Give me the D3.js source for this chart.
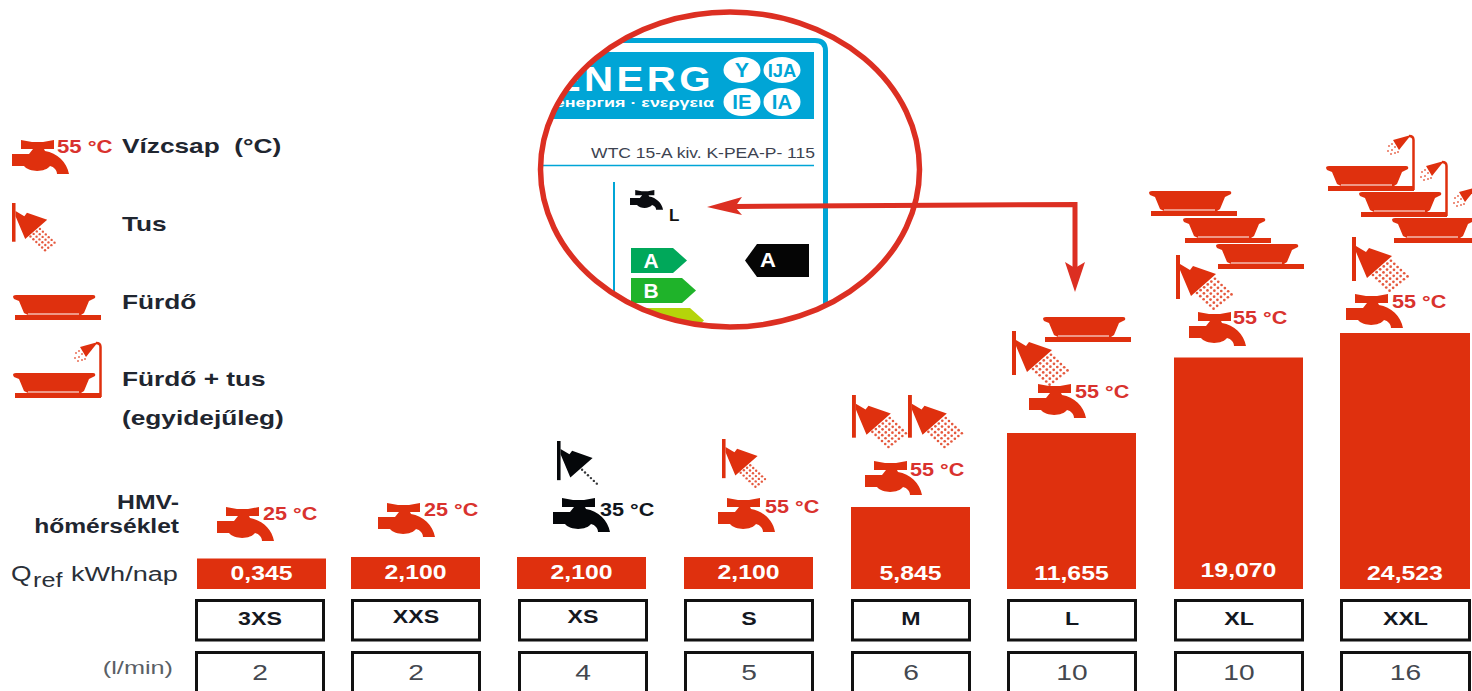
<!DOCTYPE html>
<!-- Hot water load profiles: Qref per profile with tap, shower and bath icons. -->
<meta charset="utf-8">
<style>
 html, body { margin: 0; background: #fff; }
 svg { display: block; }
 text { font-family: "Liberation Sans", Arial, sans-serif; white-space: pre; }
</style>

<svg class="chart"></svg>

<script src="https://cdnjs.cloudflare.com/ajax/libs/d3/7.8.5/d3.min.js"></script>

<script>

 // chart values
 var profiles = ["3XS", "XXS", "XS", "S", "M", "L", "XL", "XXL"];
 var qref = [0.345, 2.1, 2.1, 2.1, 5.845, 11.655, 19.07, 24.523];
 var flow = [2, 2, 4, 5, 6, 10, 10, 16];
 var temps = [25, 25, 35, 55, 55, 55, 55, 55];
 var legendLabels = ["Vízcsap  (°C)", "Tus", "Fürdő", "Fürdő + tus", "(egyidejűleg)"];

 var RED = "#df300e", LINE = "#dc2f22", BLUE = "#00a5d6", INK = "#1f2630";
 var W = 1472, H = 691;

 var svg = d3.select(".chart").attr("width", W).attr("height", H);

 // the columns of the original are not evenly spaced
 var colX = d3.scaleOrdinal().domain(profiles).range([197, 351, 517, 684, 851, 1007, 1174, 1340]);
 var colW = d3.scaleOrdinal().domain(profiles).range([129, 129, 129, 129, 119, 129, 129, 130]);
 var boxX = d3.scaleOrdinal().domain(profiles).range([196.5, 352.5, 519.5, 685.5, 852.5, 1008.5, 1175.5, 1341.5]);
 var boxW = d3.scaleOrdinal().domain(profiles).range([127, 127, 127, 127, 117, 127, 127, 128]);

 // the bars are not to scale in the original, so the height scale has several pieces
 var y = d3.scaleLinear()
     .domain([0, 0.345, 2.1, 5.845, 11.655, 19.07, 24.523])
     .range([589, 558.5, 557, 507, 433, 357.5, 333]);

 var fmt = d3.formatLocale({decimal: ",", thousands: ".", grouping: [3], currency: ["", ""]}).format(".3f");

 // the picture is stretched sideways, text gets the same stretch
 function label(g, str, x, yy, o) {
     o = o || {};
     return g.append("text")
         .attr("transform", "translate(" + x + "," + yy + ") scale(" + (o.sx || 1.2) + ",1)")
         .attr("text-anchor", o.anchor || "start")
         .attr("font-size", o.size || 20)
         .attr("font-weight", o.weight || "bold")
         .attr("letter-spacing", o.ls || null)
         .attr("fill", o.fill || INK)
         .text(str);
 }

 function tap(g, x, yy, color, scale) {
     g.append("path")
         .attr("transform", "translate(" + x + "," + yy + ") scale(" + (scale || 1) + ")")
         .attr("fill", color)
         .attr("d", "M9,0 L20,2 L31,2 L42,0 L42,9 L32,9 L33,11 C45,13 55,22 57,34 L45,34 "
                  + "C45,30 42,27 38,26 C34,32 18,33 12,26 L0,26 L0,14 L17,14 L21,9 L9,9 Z");
 }

 function shower(g, x, yy, color, scale, iFrom, iTo, jTo) {
     var s = g.append("g")
         .attr("transform", "translate(" + x + "," + yy + ") scale(" + (scale || 1) + ")")
         .attr("fill", color);
     s.append("rect").attr("width", 4).attr("height", 44);
     s.append("path").attr("d", "M4,9 L14,15 L17,11 L40,19 L15,41 L4,15 Z");
     var pts = [];
     d3.range(iFrom, iTo + 1).forEach(function(i) {
         d3.range(0, jTo + 1).forEach(function(j) {
             pts.push([21 + i * 4.6 * 0.78 + j * 4.6 * 0.72, 38 - i * 4.6 * 0.62 + j * 4.6 * 0.68]);
         });
     });
     s.selectAll("circle").data(pts).enter().append("circle")
         .attr("cx", function(d) { return d[0]; })
         .attr("cy", function(d) { return d[1]; })
         .attr("r", 1.35)
         .attr("opacity", 0.8);
 }

 function bath(g, x, yy, withShower) {
     var b = g.append("g").attr("transform", "translate(" + x + "," + yy + ")").attr("fill", RED);
     b.append("path").attr("d", "M0,2 Q0,0 3,0 L80,0 Q83,0 82,3 L76,6 L71,18 L68,20 L88,20 L88,25 "
                              + "L2,25 L2,20 L15,20 L11,18 L6,6 L1,4 Z");
     b.append("line").attr("x1", 15).attr("x2", 66).attr("y1", 19).attr("y2", 19)
         .attr("stroke", "#fff").attr("stroke-width", 1);
     if (withShower) {
         b.append("path").attr("fill", "none").attr("stroke", RED).attr("stroke-width", 2.5)
             .attr("d", "M87.5,24 L87.5,-26 Q87.5,-30 83,-30");
         b.append("path").attr("d", "M85,-31 L67,-26 L73,-16 Z");
         var pts = [[66, -22], [69, -19], [72, -14], [63, -20], [66, -16], [69, -13], [62, -15], [65, -12]];
         b.selectAll("circle").data(pts).enter().append("circle")
             .attr("cx", function(d) { return d[0]; })
             .attr("cy", function(d) { return d[1]; })
             .attr("r", 1).attr("opacity", 0.7);
     }
 }

 // ---- legend ----
 var legend = svg.append("g");
 tap(legend, 12, 140, RED);
 label(legend, "55 °C", 57, 153, {size: 18, fill: "#d9322e", sx: 1.23});
 shower(legend, 12, 203, RED, 0.88, 0, 3, 5);
 bath(legend, 13, 295, false);
 bath(legend, 13, 373, true);
 [153, 231, 309, 386, 425].forEach(function(yy, i) {
     label(legend, legendLabels[i], 122, yy, {size: 21, sx: 1.25});
 });

 // ---- row headings ----
 var heads = svg.append("g");
 label(heads, "HMV-", 179, 509, {size: 20, anchor: "end", sx: 1.24});
 label(heads, "hőmérséklet", 179, 533, {size: 20, anchor: "end", sx: 1.23});
 label(heads, "Q", 11, 581, {size: 22, weight: "normal", sx: 1.2, fill: "#2a3038"});
 label(heads, "ref", 33, 587, {size: 21, weight: "normal", sx: 1.2, fill: "#2a3038"});
 label(heads, "kWh/nap", 71, 581, {size: 21, weight: "normal", sx: 1.29, fill: "#2a3038"});
 label(heads, "(l/min)", 173, 674, {size: 19, weight: "normal", anchor: "end", sx: 1.33, fill: "#5a5f66"});

 // ---- bars and value labels ----
 var rows = profiles.map(function(p, i) {
     return {name: p, q: qref[i], flow: flow[i], temp: temps[i]};
 });

 svg.append("g").selectAll("rect").data(rows).enter().append("rect")
     .attr("x", function(d) { return colX(d.name); })
     .attr("y", function(d) { return y(d.q); })
     .attr("width", function(d) { return colW(d.name); })
     .attr("height", function(d) { return y(0) - y(d.q); })
     .attr("fill", RED);

 var valueG = svg.append("g");
 rows.forEach(function(d) {
     var c = colX(d.name) + colW(d.name) / 2;
     var base = d.name == "XL" ? 577 : (d.name == "XXS" || d.name == "XS" || d.name == "S" ? 579 : 580);
     label(valueG, fmt(d.q), c, base, {size: 20, anchor: "middle", fill: "#fff", sx: 1.24});
 });

 // ---- boxes under the bars ----
 var boxes = svg.append("g");
 rows.forEach(function(d) {
     var bx = boxX(d.name), bw = boxW(d.name);
     boxes.append("rect").attr("x", bx).attr("y", 600.5).attr("width", bw).attr("height", 39.5)
         .attr("fill", "#fff").attr("stroke", "#111").attr("stroke-width", 3);
     boxes.append("rect").attr("x", bx).attr("y", 652.5).attr("width", bw).attr("height", 60)
         .attr("fill", "#fff").attr("stroke", "#111").attr("stroke-width", 3);
     var c = bx + bw / 2;
     label(boxes, d.name, c, d.name == "XXS" || d.name == "XS" ? 623 : 625, {size: 19, anchor: "middle", sx: 1.22, fill: "#14181f"});
     label(boxes, d.flow, c, 680, {size: 22, weight: "normal", anchor: "middle", sx: 1.28, fill: "#44484f"});
 });

 // ---- icons over the bars, tap position per profile ----
 var tapSpots = {"3XS": [217, 507, 263, 520], "XXS": [378, 503, 424, 516], "XS": [553, 498, 600, 516],
                 "S": [718, 498, 765, 513], "M": [865, 461, 910, 476], "L": [1029, 384, 1075, 398],
                 "XL": [1189, 312, 1233, 324], "XXL": [1346, 294, 1392, 308]};
 var icons = svg.append("g");
 rows.forEach(function(d) {
     var s = tapSpots[d.name];
     var col = d.temp == 35 ? "#05070a" : RED;
     tap(icons, s[0], s[1], col);
     label(icons, d.temp + " °C", s[2], s[3], {size: 18, fill: d.temp == 35 ? "#11161d" : "#d9322e", sx: 1.2});
 });

 shower(icons, 557, 441, "#05070a", 0.89, 2, 2, 5);
 shower(icons, 722, 439, RED, 0.89, 0, 3, 5);
 shower(icons, 852, 395, RED, 0.97, 0, 5, 5);
 shower(icons, 908, 395, RED, 0.97, 0, 5, 5);
 shower(icons, 1012, 331, RED, 1, 0, 5, 5);
 shower(icons, 1176, 255, RED, 1, 0, 5, 5);
 shower(icons, 1352, 237, RED, 1, 0, 5, 5);

 bath(icons, 1043, 317, false);
 bath(icons, 1149, 191, false);
 bath(icons, 1183, 218, false);
 bath(icons, 1216, 244, false);
 bath(icons, 1326, 166, true);
 bath(icons, 1359, 192, true);
 bath(icons, 1392, 218, true);

 // ---- energy label inset ----
 var defs = svg.append("defs");
 defs.append("clipPath").attr("id", "lens").append("ellipse")
     .attr("cx", 730).attr("cy", 169.5).attr("rx", 189.5).attr("ry", 157.5);

 var inset = svg.append("g").attr("clip-path", "url(#lens)");
 inset.append("path").attr("fill", "none").attr("stroke", BLUE).attr("stroke-width", 5)
     .attr("d", "M530,40.5 H815 Q825.5,40.5 825.5,51 V340");
 inset.append("rect").attr("x", 530).attr("y", 52).attr("width", 284).attr("height", 67).attr("fill", BLUE);
 label(inset, "ENERG", 714, 91, {size: 36, anchor: "end", fill: "#fff", sx: 1.12, ls: 3});
 label(inset, "енергия · ενεργεια", 714, 107, {size: 13.5, anchor: "end", fill: "#fff", sx: 1.33});
 [["Y", 742, 70, 21], ["IJA", 782, 70, 18], ["IE", 742, 102, 20], ["IA", 782, 102, 20]].forEach(function(c) {
     inset.append("ellipse").attr("cx", c[1]).attr("cy", c[2]).attr("rx", 18.5).attr("ry", c[2] == 70 ? 13 : 14).attr("fill", "#fff");
     label(inset, c[0], c[1], c[2] + 7, {size: c[3], anchor: "middle", fill: BLUE, sx: 1.02});
 });
 label(inset, "WTC 15-A kiv. K-PEA-P- 115", 815, 158, {size: 15.5, weight: "normal", anchor: "end", fill: "#3c4250", sx: 1.13});
 inset.append("line").attr("x1", 530).attr("x2", 814).attr("y1", 165.5).attr("y2", 165.5).attr("stroke", BLUE).attr("stroke-width", 1.5);
 inset.append("line").attr("x1", 614).attr("x2", 614).attr("y1", 182).attr("y2", 340).attr("stroke", BLUE).attr("stroke-width", 2);
 tap(inset, 630, 190, "#0a0c10", 0.58);
 label(inset, "L", 669, 221, {size: 17, fill: "#111", sx: 1});

 [["A", 248, 56, "#00a85a"], ["B", 278, 65, "#1fb32a"], ["", 308, 73, "#b5d40a"]].forEach(function(c) {
     var x0 = 631, y0 = c[1], w = c[2], h = 25;
     inset.append("path").attr("fill", c[3])
         .attr("d", "M" + x0 + "," + y0 + " H" + (x0 + w - 14) + " L" + (x0 + w) + "," + (y0 + h / 2)
                  + " L" + (x0 + w - 14) + "," + (y0 + h) + " H" + x0 + " Z");
     label(inset, c[0], x0 + 20, y0 + 20, {size: 20, fill: "#fff", anchor: "middle", sx: 1.05});
 });
 inset.append("path").attr("fill", "#050505").attr("d", "M745,260.5 L757,244 H809 V277 H757 Z");
 label(inset, "A", 768, 267, {size: 21, fill: "#fff", anchor: "middle", sx: 1.05});

 svg.append("ellipse").attr("cx", 730).attr("cy", 169.5).attr("rx", 189.5).attr("ry", 157.5)
     .attr("fill", "none").attr("stroke", LINE).attr("stroke-width", 5.5);

 // ---- arrow from the lens to the L profile ----
 var arrow = svg.append("g").attr("fill", LINE);
 arrow.append("path").attr("fill", "none").attr("stroke", LINE).attr("stroke-width", 5)
     .attr("d", "M735,206.5 L1075,204.5 L1075,268");
 arrow.append("path").attr("d", "M707,207 L742,197 L735,207 L742,215 Z");
 arrow.append("path").attr("d", "M1075,292 L1065,262 L1075,268 L1085,262 Z");

</script>
